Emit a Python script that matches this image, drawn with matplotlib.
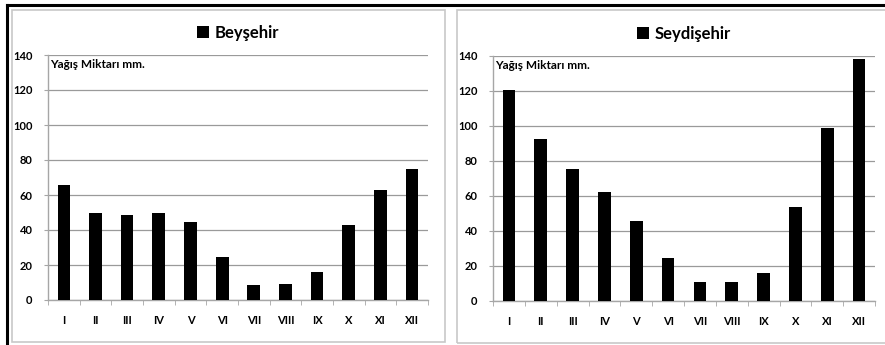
import matplotlib.pyplot as plt
from matplotlib.patches import Rectangle
from matplotlib.lines import Line2D
import numpy as np

months = ["I", "II", "III", "IV", "V", "VI", "VII", "VIII", "IX", "X", "XI", "XII"]
beysehir = [66, 49.5, 48.4, 50, 44.4, 24.4, 8.6, 9.1, 16.2, 42.9, 62.9, 74.9]
seydisehir = [120.5, 92.3, 75.3, 62, 45.8, 24.3, 10.9, 10.9, 16, 53.8, 98.6, 138]
yticks = [0, 20, 40, 60, 80, 100, 120, 140]

plt.rcParams['font.family'] = ['Lato', 'DejaVu Sans']
plt.rcParams['font.weight'] = 'bold'

W, H = 885, 345
fig = plt.figure(figsize=(W / 100, H / 100), dpi=100)
fig.patch.set_facecolor('white')


def px(x0, y0, x1, y1):
    # pixel box (top-left origin) -> figure fraction rect
    return [x0 / W, 1 - y1 / H, (x1 - x0) / W, (y1 - y0) / H]


# chart frames
for x0, y0, x1, y1 in [(11.5, 9.5, 445, 342), (457, 9.5, 890, 343)]:
    fig.patches.append(Rectangle((x0 / W, 1 - y1 / H), (x1 - x0) / W, (y1 - y0) / H,
                                 transform=fig.transFigure, fill=False,
                                 edgecolor='#c8c8c8', lw=1.2))
# thick black border top and left
fig.lines.append(Line2D([7 / W, 1], [1 - 5 / H, 1 - 5 / H], transform=fig.transFigure,
                        color='black', lw=2.2))
fig.lines.append(Line2D([7 / W, 7 / W], [0, 1 - 5 / H], transform=fig.transFigure,
                        color='black', lw=2.2))

gray = '#a6a6a6'
panels = [
    (beysehir, "Beyşehir", px(48, 55, 428, 300)),
    (seydisehir, "Seydişehir", px(493, 56, 875, 300.7)),
]

for values, name, rect in panels:
    ax = fig.add_axes(rect)
    x = np.arange(len(months))
    ax.bar(x, values, width=0.4, color='black', label=name, zorder=3)
    ax.set_xlim(-0.5, len(months) - 0.5)
    ax.set_ylim(0, 140)
    ax.set_yticks(yticks)
    ax.set_yticklabels([str(v) for v in yticks], fontsize=8, fontweight='bold')
    ax.set_xticks(x)
    ax.set_xticklabels(months, fontsize=8, fontweight='bold')
    ax.set_xticks(np.arange(-0.5, len(months)), minor=True)
    ax.tick_params(axis='x', which='major', length=0, pad=11)
    ax.tick_params(axis='x', which='minor', length=3.5, color=gray, direction='out')
    ax.tick_params(axis='y', length=3, color=gray, pad=8)
    ax.yaxis.grid(True, color='#9a9a9a', lw=0.9, zorder=0)
    ax.set_axisbelow(True)
    for s in ['top', 'right']:
        ax.spines[s].set_visible(False)
    for s in ['left', 'bottom']:
        ax.spines[s].set_color(gray)
        ax.spines[s].set_linewidth(1.0)
    ax.text(0.005, 0.985, "Yağış Miktarı mm.", transform=ax.transAxes,
            fontsize=8.5, fontweight='bold', va='top', ha='left')
    ax.legend(loc='center', bbox_to_anchor=(0.5, 1 + 22 / 245), frameon=False,
              handlelength=0.75, handleheight=0.75, handletextpad=0.35,
              prop={'size': 12, 'weight': 'bold'})

fig.savefig('out.png', dpi=100, facecolor='white')
